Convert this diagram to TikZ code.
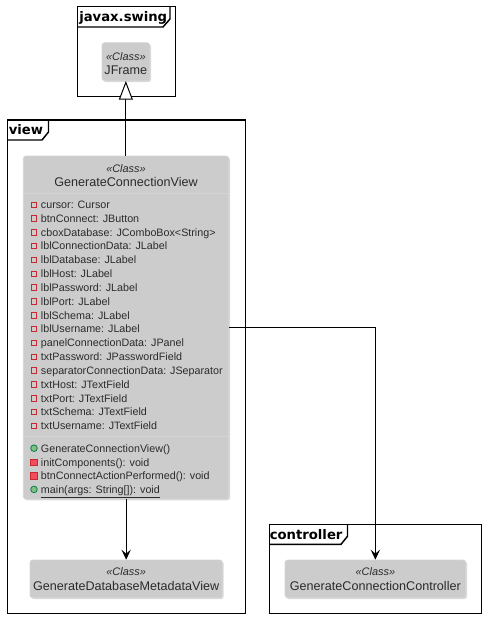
\documentclass[tikz,border=0pt]{standalone}
\usepackage{fontspec}
\setmainfont{Liberation Sans}
\newfontfamily\pkgfont{DejaVu Sans}
\usetikzlibrary{arrows.meta,fit,shadows}

\definecolor{classbg}{HTML}{CCCCCC}
\definecolor{classedge}{HTML}{D4D4D4}
\definecolor{txt}{HTML}{2B2B2B}
\definecolor{privred}{HTML}{C82930}
\definecolor{privfill}{HTML}{F24D5C}
\definecolor{pubgreen}{HTML}{038048}
\definecolor{pubfill}{HTML}{84BE84}

\begin{document}
\begin{tikzpicture}[x=0.75pt,y=-0.75pt,
  pkg/.style={draw=black,line width=1.1pt},
  pkgtitle/.style={font=\pkgfont\bfseries\fontsize{9.9}{12}\selectfont,anchor=west,
    inner sep=0pt,text height=7.2pt,text depth=0pt},
  cls/.style={rectangle,rounded corners=2pt,fill=classbg,draw=classedge,line width=0.5pt,
    inner sep=0pt,drop shadow={shadow xshift=1pt,shadow yshift=-1pt,opacity=0.15,fill=black}},
  stereo/.style={font=\fontsize{8.2}{10}\selectfont\itshape,text=txt,inner sep=0pt,
    text height=5.87pt,text depth=0pt},
  cname/.style={font=\fontsize{9.45}{11}\selectfont,text=txt,inner sep=0pt,
    text height=6.77pt,text depth=0pt},
  member/.style={font=\fontsize{8.05}{10}\selectfont,text=txt,anchor=west,inner sep=0pt,
    text height=5.76pt,text depth=0pt},
  sep/.style={draw=classedge,line width=0.6pt},
  privattr/.style={draw=privred,line width=0.7pt},
  privop/.style={draw=privred,fill=privfill,line width=0.6pt},
  pubop/.style={draw=pubgreen,fill=pubfill,line width=0.6pt},
  dep/.style={draw=black,line width=0.75pt,-{Stealth[length=7.5pt,width=7pt,inset=3pt]}},
  inherit/.style={draw=black,line width=0.75pt,-{Triangle[open,length=14pt,width=10.5pt,fill=white]}}
]
\useasboundingbox (0,0) rectangle (486,618);

% package frames with their title tabs
\draw[pkg] (77.3,6.7) rectangle (175.7,96.7);
\draw[pkg] (77.3,27) -- (163,27) -- (170,19) -- (170,6.7);
\node[pkgtitle] (swingtitle) at (79,17) {javax.swing};

\draw[pkg] (7.3,120) rectangle (245.7,613.3);
\draw[pkg] (7.3,140) -- (42,140) -- (48.5,132) -- (48.5,120);
\node[pkgtitle] (viewtitle) at (8.5,130) {view};

\draw[pkg] (269.3,524.3) rectangle (481.7,613.3);
\draw[pkg] (269.3,544.3) -- (341,544.3) -- (347.5,536.3) -- (347.5,524.3);
\node[pkgtitle] (ctrltitle) at (269.5,534.3) {controller};

% JFrame
\node[cls,fit={(102,42.7)(149.7,80.7)}] (jframe) {};
\node[stereo] (jframest) at (jframe.center |- 0,56.7) {«Class»};
\node[cname] (jframenm) at (jframe.center |- 0,70) {JFrame};

% GenerateConnectionView
\node[cls,fit={(23.3,156)(228.7,499)}] (gcv) {};
\node[stereo] (gcvst) at (gcv.center |- 0,168.3) {«Class»};
\node[cname] (gcvnm) at (gcv.center |- 0,182.3) {GenerateConnectionView};
\draw[sep] (gcv.west |- 0,193.3) -- (gcv.east |- 0,193.3);
\draw[sep] (gcv.west |- 0,436.7) -- (gcv.east |- 0,436.7);

\foreach \y/\t [count=\i] in {
  205/{cursor: Cursor},
  218.5/{btnConnect: JButton},
  232.2/{cboxDatabase: JComboBox<String>},
  246/{lblConnectionData: JLabel},
  259.9/{lblDatabase: JLabel},
  273.8/{lblHost: JLabel},
  287.7/{lblPassword: JLabel},
  301.5/{lblPort: JLabel},
  315.3/{lblSchema: JLabel},
  329.1/{lblUsername: JLabel},
  342.9/{panelConnectionData: JPanel},
  356.8/{txtPassword: JPasswordField},
  370.7/{separatorConnectionData: JSeparator},
  384.5/{txtHost: JTextField},
  398.3/{txtPort: JTextField},
  412.1/{txtSchema: JTextField},
  426/{txtUsername: JTextField}} {
  \draw[privattr] (31.2,\y-2.8) rectangle (36.8,\y+2.8);
  \node[member] (attr\i) at (40.7,\y) {\t};
}

\draw[pubop] (34,448.2) circle[radius=3.3];
\node[member] (op1) at (40.7,448.2) {GenerateConnectionView()};
\draw[privop] (30.8,462.2-3.2) rectangle (37.2,462.2+3.2);
\node[member] (op2) at (40.7,462.2) {initComponents(): void};
\draw[privop] (30.8,476-3.2) rectangle (37.2,476+3.2);
\node[member] (op3) at (40.7,476) {btnConnectActionPerformed(): void};
\draw[pubop] (34,489.4) circle[radius=3.3];
\node[member] (op4) at (40.7,489.4) {\underline{main(args: String[]): void}};

% GenerateDatabaseMetadataView
\node[cls,fit={(30,560)(222.3,597.7)}] (gdmv) {};
\node[stereo] (gdmvst) at (gdmv.center |- 0,572) {«Class»};
\node[cname] (gdmvnm) at (gdmv.center |- 0,586) {GenerateDatabaseMetadataView};

% GenerateConnectionController
\node[cls,fit={(285,560)(465.7,597.7)}] (gcc) {};
\node[stereo] (gccst) at (gcc.center |- 0,572) {«Class»};
\node[cname] (gccnm) at (gcc.center |- 0,586) {GenerateConnectionController};

% relations
\draw[inherit] (gcv.north -| jframe.south) -- (jframe.south);
\draw[dep] (gcv.south -| gdmv.north) -- (gdmv.north);
\draw[dep] (gcv.east) -| (gcc.north);
\end{tikzpicture}
\end{document}
